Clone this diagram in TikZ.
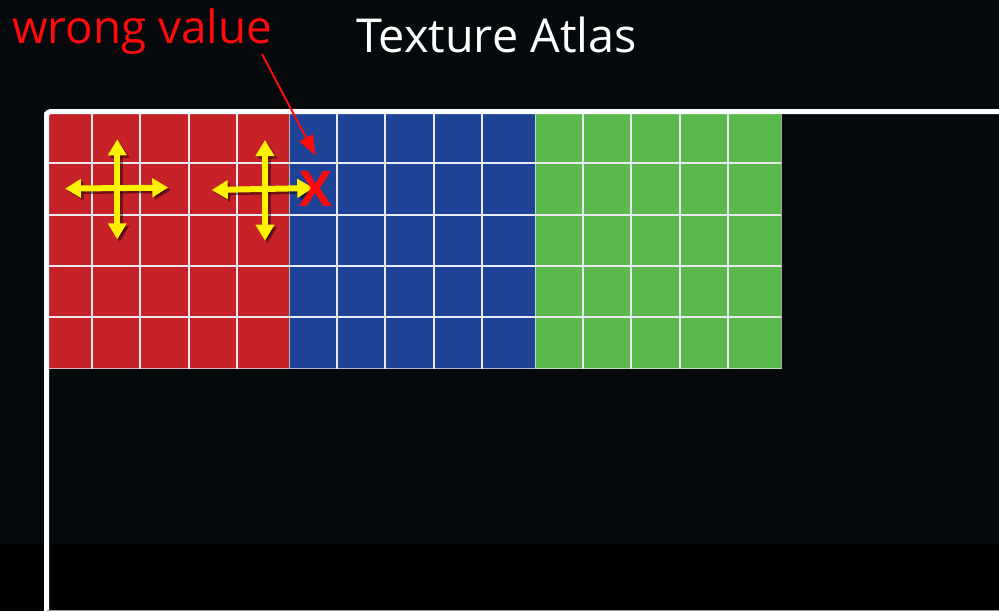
\documentclass[tikz,border=0pt]{standalone}
\usepackage{fontspec}
\setmainfont{Open Sans}
\usetikzlibrary{arrows.meta}
\definecolor{bg}{HTML}{05090B}
\definecolor{cellred}{HTML}{C62127}
\definecolor{cellblue}{HTML}{1E4396}
\definecolor{cellgreen}{HTML}{59B94B}
\definecolor{gridline}{HTML}{E8EAF0}
\definecolor{txtred}{HTML}{FF0A0A}
\begin{document}
\begin{tikzpicture}[x=1pt,y=-1pt,
  yarrow/.style={line width=6pt, draw=yellow, {Triangle[width=18pt,length=16pt]}-{Triangle[width=18pt,length=16pt]}},
  yshadow/.style={line width=6pt, draw=black, opacity=0.45, {Triangle[width=18pt,length=16pt]}-{Triangle[width=18pt,length=16pt]}},
  cellline/.style={draw=gridline, line width=2pt},
  blockedge/.style={draw=gridline, line width=0.8pt, opacity=0.7},
  label/.style={anchor=base west, inner sep=0pt}]
\useasboundingbox (0,0) rectangle (999,611);
\clip (0,0) rectangle (999,611);
% background
\fill[bg] (0,0) rectangle (999,544);
\fill[black] (0,544) rectangle (999,611);
% atlas blocks
\foreach \bx/\col in {44/cellred, 289/cellblue, 535/cellgreen}{
  \fill[\col] (\bx,112) rectangle ++(246,256.5);
  \foreach \k in {1,...,4}{
    \draw[cellline] (\bx+48.2*\k,112) -- (\bx+48.2*\k,368.5);
    \draw[cellline] (\bx,112+51.3*\k) -- (\bx+246,112+51.3*\k);
  }
  \draw[blockedge] (\bx,112) rectangle ++(246,256.5);
}
% frame
\draw[white, line width=5pt, rounded corners=4pt] (46.5,616) -- (46.5,111.5) -- (1010,111.5);
\draw[gray!80, line width=1.2pt] (46.5,610.6) -- (1000,610.6);
% texts
\node[label, text=txtred, font=\fontsize{45.8}{55}\selectfont] (wrong) at (12,43) {wrong value};
\node[label, text=white, font=\fontsize{46.8}{56}\selectfont] (title) at (356,52) {Texture Atlas};
% yellow crosses
\coordinate (aT) at (117.3,139.3); \coordinate (aB) at (117.3,239.3);
\coordinate (aL) at (65,188.6);   \coordinate (aR) at (168.3,187.6);
\coordinate (bT) at (265,140);    \coordinate (bB) at (265,240.7);
\coordinate (bL) at (211.7,190);  \coordinate (bR) at (313.3,188);
\foreach \p/\q in {aT/aB, aL/aR, bT/bB, bL/bR}{
  \draw[yshadow] ([shift={(2.5,2.5)}]\p) -- ([shift={(2.5,2.5)}]\q);
}
\foreach \p/\q in {aT/aB, aL/aR, bT/bB, bL/bR}{
  \draw[yarrow] (\p) -- (\q);
}
% red X and pointer
\node[inner sep=0pt, text=txtred, font=\bfseries\fontsize{49}{58}\selectfont] (xmark) at (316,189) {X};
\coordinate (wvtail) at (262,54);
\coordinate (wvtip) at (315.5,155.5);
\draw[txtred, line width=2pt, -{Triangle[width=15pt,length=20pt]}] (wvtail) -- (wvtip);
\end{tikzpicture}
\end{document}
